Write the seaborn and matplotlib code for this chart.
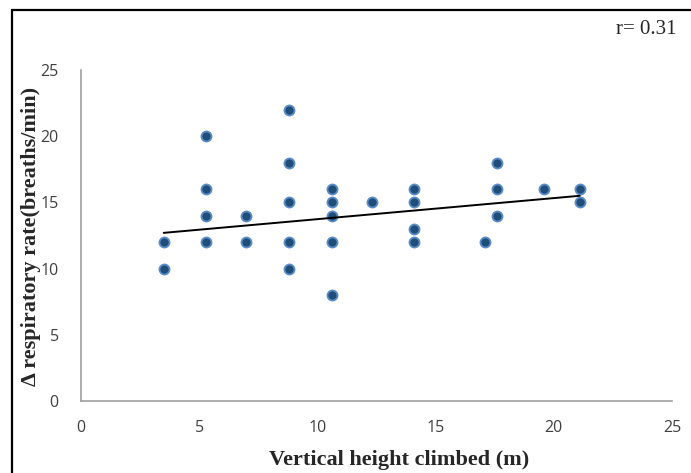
import matplotlib
matplotlib.use("Agg")
import matplotlib.pyplot as plt
import seaborn as sns
import pandas as pd
from matplotlib.patches import Rectangle

height_m = [3.5, 3.5,
            5.3, 5.3, 5.3, 5.3,
            7.0, 7.0,
            8.8, 8.8, 8.8, 8.8, 8.8,
            10.6, 10.6, 10.6, 10.6, 10.6,
            12.3,
            14.1, 14.1, 14.1, 14.1,
            17.1,
            17.6, 17.6, 17.6,
            19.6,
            21.1, 21.1]
resp_rate = [12, 10,
             20, 16, 14, 12,
             14, 12,
             22, 18, 15, 12, 10,
             16, 15, 14, 12, 8,
             15,
             16, 15, 13, 12,
             12,
             18, 16, 14,
             16,
             16, 15]
# linear trendline as drawn in the reference (endpoints)
trend_x = [3.5, 21.1]
trend_y = [12.7, 15.5]
x_ticks = [0, 5, 10, 15, 20, 25]
y_ticks = [0, 5, 10, 15, 20, 25]

df = pd.DataFrame({"h": height_m, "r": resp_rate})
tdf = pd.DataFrame({"h": trend_x, "r": trend_y})

sns.set_theme(style="white")
fig = plt.figure(figsize=(6.91, 4.73), dpi=100)
ax = fig.add_axes([81/691, 1-401/473, (672-81)/691, (401-70)/473])

sns.scatterplot(data=df, x="h", y="r", ax=ax, s=52, color="#1F4E79",
                edgecolor="#5B8CC8", linewidth=1.3, zorder=3)
sns.lineplot(data=tdf, x="h", y="r", ax=ax, color="black", lw=1.4, zorder=4)

ax.set_xlim(0, 25)
ax.set_ylim(0, 25)
ax.set_xticks(x_ticks)
ax.set_yticks(y_ticks)
ax.tick_params(axis="both", length=0, labelsize=11.5, colors="#404040")
ax.tick_params(axis="x", pad=14)
ax.tick_params(axis="y", pad=16)
for lab in ax.get_xticklabels() + ax.get_yticklabels():
    lab.set_fontfamily("Open Sans")
for s in ["top", "right"]:
    ax.spines[s].set_visible(False)
for s in ["left", "bottom"]:
    ax.spines[s].set_color("#A0A0A0")
    ax.spines[s].set_linewidth(1.2)

ax.set_xlabel("")
ax.set_ylabel("")
fig.text(399/691, 1-460/473, "Vertical height climbed (m)", ha="center", va="center",
         fontfamily="Liberation Serif", fontweight="bold", fontsize=16)
fig.text(31/691, 1-236/473, "Δ respiratory rate(breaths/min)", ha="center", va="center",
         rotation=90, fontfamily="Liberation Serif", fontweight="bold", fontsize=16)
fig.text(646/691, 1-30/473, "r= 0.31", ha="center", va="center",
         fontfamily="Liberation Serif", fontsize=15)

fig.patches.append(Rectangle((12/691, -0.05), 0.99, 1-10/473+0.05, transform=fig.transFigure,
                             fill=False, edgecolor="black", lw=1.6))

fig.savefig("out.png", dpi=100)
